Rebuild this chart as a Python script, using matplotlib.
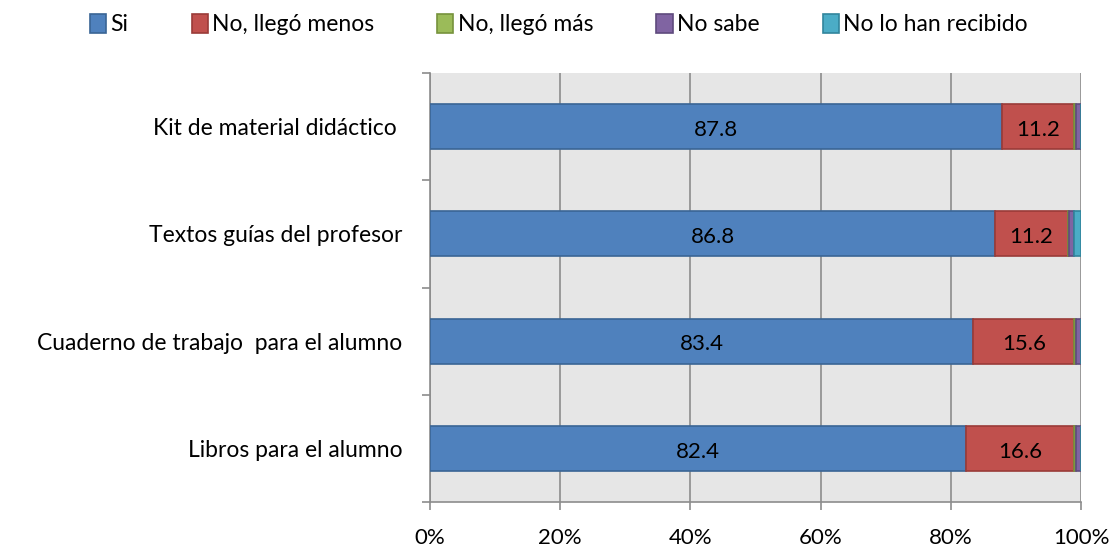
import numpy as np
from matplotlib import pyplot as plt
from matplotlib.ticker import MultipleLocator, PercentFormatter

plt.rcParams['font.family'] = ['Lato', 'DejaVu Sans']

categories = ["Kit de material didáctico ", "Textos guías del profesor",
              "Cuaderno de trabajo  para el alumno", "Libros para el alumno"]
series_names = ["Si", "No, llegó menos", "No, llegó más", "No sabe", "No lo han recibido"]
si = [87.8, 86.8, 83.4, 82.4]
llego_menos = [11.2, 11.2, 15.6, 16.6]
llego_mas = [0.2, 0.2, 0.2, 0.2]
no_sabe = [0.8, 0.8, 0.8, 0.8]
no_recibido = [0.0, 1.0, 0.0, 0.0]

colors = ["#4F81BD", "#C0504D", "#9BBB59", "#8064A2", "#4BACC6"]
edges = ["#3A6595", "#9A3B38", "#76923C", "#5F4A7D", "#31859C"]
grid_col = "#8C8C8C"

fig = plt.figure(figsize=(11.18, 5.5), dpi=100)
ax = fig.add_axes([430 / 1118, 48 / 550, 651 / 1118, 429 / 550])
ax.set_facecolor("#E6E6E6")

y = np.arange(len(categories))[::-1]
left = np.zeros(len(categories))
all_series = [si, llego_menos, llego_mas, no_sabe, no_recibido]
for name, vals, c, ec in zip(series_names, all_series, colors, edges):
    vals = np.array(vals)
    ax.barh(y, vals, left=left, height=0.42, color=c, edgecolor=ec, linewidth=1.2,
            label=name, zorder=3)
    for yi, l, v in zip(y, left, vals):
        if v >= 5:
            ax.text(l + v / 2, yi - 0.03, f"{v:.1f}", ha="center", va="center",
                    fontsize=16, color="black", zorder=4)
    left += vals

ax.set_xlim(0, 100)
ax.set_ylim(-0.5, len(categories) - 0.5)
ax.xaxis.set_major_locator(MultipleLocator(20))
ax.xaxis.set_major_formatter(PercentFormatter(decimals=0))
ax.grid(axis="x", color=grid_col, linewidth=1.2, zorder=0)
ax.tick_params(axis="x", length=6, width=1.2, color=grid_col, labelsize=16, pad=13)

ax.set_yticks(y)
ax.set_yticklabels(categories, fontsize=16.5)
ax.set_yticks(np.arange(-0.5, len(categories), 1), minor=True)
ax.tick_params(axis="y", which="major", length=0, pad=20)
ax.tick_params(axis="y", which="minor", length=6, color=grid_col, width=1.2)

for side in ["top", "right"]:
    ax.spines[side].set_visible(False)
for side in ["left", "bottom"]:
    ax.spines[side].set_color(grid_col)
    ax.spines[side].set_linewidth(1.2)

fig.legend(loc="upper center", bbox_to_anchor=(0.5, 1.012), ncol=5, frameon=False,
           fontsize=16.5, handlelength=0.7, handleheight=0.9, handletextpad=0.2,
           columnspacing=2.75)

fig.savefig("out.png", dpi=100)
